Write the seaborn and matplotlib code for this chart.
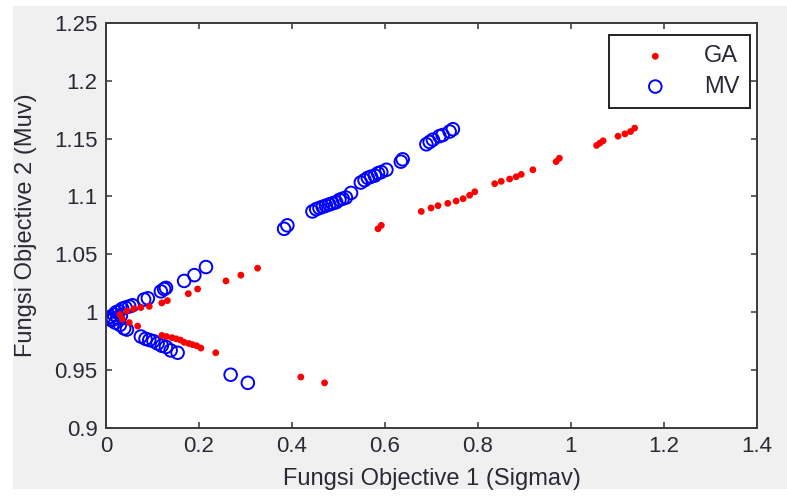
import matplotlib
matplotlib.use("Agg")
import matplotlib.pyplot as plt
from matplotlib.patches import Rectangle
import numpy as np
import pandas as pd
import seaborn as sns

# GA front: Sigmav (objective 1) and Muv (objective 2)
ga_sigmav = [0.030, 0.045, 0.060, 0.075, 0.093, 0.120, 0.132, 0.177, 0.197, 0.258,
             0.290, 0.326, 0.585, 0.592, 0.678, 0.699, 0.714, 0.735, 0.753, 0.768,
             0.782, 0.793, 0.836, 0.850, 0.868, 0.882, 0.893, 0.918, 0.968, 0.975,
             1.055, 1.062, 1.069, 1.101, 1.116, 1.128, 1.137,
             0.035, 0.050, 0.068, 0.120, 0.130, 0.142, 0.151, 0.160, 0.168, 0.178,
             0.186, 0.195, 0.204, 0.236, 0.419, 0.470]
ga_muv = [0.998, 1.001, 1.003, 1.004, 1.005, 1.008, 1.010, 1.016, 1.020, 1.027,
          1.032, 1.038, 1.072, 1.075, 1.087, 1.090, 1.092, 1.094, 1.096, 1.098,
          1.101, 1.104, 1.111, 1.113, 1.115, 1.117, 1.119, 1.123, 1.130, 1.133,
          1.144, 1.146, 1.148, 1.152, 1.154, 1.156, 1.159,
          0.994, 0.991, 0.988, 0.980, 0.979, 0.978, 0.977, 0.976, 0.974, 0.973,
          0.972, 0.971, 0.969, 0.965, 0.944, 0.939]

# MV front
mv_sigmav = [0.010, 0.017, 0.022, 0.028, 0.035, 0.042, 0.050, 0.057, 0.082, 0.090,
             0.118, 0.125, 0.129, 0.168, 0.190, 0.215, 0.383, 0.390, 0.444, 0.452,
             0.459, 0.466, 0.473, 0.480, 0.487, 0.495, 0.502, 0.509, 0.516, 0.527,
             0.548, 0.556, 0.563, 0.570, 0.578, 0.585, 0.592, 0.603, 0.634, 0.638,
             0.689, 0.696, 0.703, 0.717, 0.724, 0.739, 0.746,
             0.012, 0.020, 0.030, 0.039, 0.045, 0.075, 0.085, 0.093, 0.102, 0.111,
             0.120, 0.129, 0.139, 0.154, 0.268, 0.305,
             0.015, 0.025, 0.032]
mv_muv = [0.996, 0.998, 1.000, 1.001, 1.003, 1.004, 1.005, 1.006, 1.011, 1.012,
          1.018, 1.020, 1.021, 1.027, 1.032, 1.039, 1.072, 1.075, 1.087, 1.089,
          1.090, 1.091, 1.092, 1.093, 1.094, 1.095, 1.097, 1.098, 1.099, 1.103,
          1.112, 1.114, 1.116, 1.117, 1.118, 1.120, 1.121, 1.123, 1.130, 1.132,
          1.145, 1.147, 1.149, 1.152, 1.153, 1.156, 1.158,
          0.993, 0.991, 0.989, 0.986, 0.985, 0.979, 0.977, 0.976, 0.975, 0.973,
          0.971, 0.970, 0.967, 0.965, 0.946, 0.939,
          0.994, 0.995, 0.997]

x_ticks = [0, 0.2, 0.4, 0.6, 0.8, 1.0, 1.2, 1.4]
x_ticklabels = ["0", "0.2", "0.4", "0.6", "0.8", "1", "1.2", "1.4"]
y_ticks = [0.9, 0.95, 1.0, 1.05, 1.1, 1.15, 1.2, 1.25]
y_ticklabels = ["0.9", "0.95", "1", "1.05", "1.1", "1.15", "1.2", "1.25"]

sns.set_theme(style="white")
plt.rcParams["font.family"] = ["Liberation Sans", "DejaVu Sans"]

ga = pd.DataFrame({"sigmav": ga_sigmav, "muv": ga_muv})
mv = pd.DataFrame({"sigmav": mv_sigmav, "muv": mv_muv})

W, H = 787, 497
fig = plt.figure(figsize=(W / 100, H / 100), dpi=100, facecolor="white")
# grey window panel
fig.add_artist(Rectangle((13 / W, (H - 489) / H), 1 - 13 / W, (489 - 6) / H,
                         transform=fig.transFigure, facecolor="#f0f0f0",
                         edgecolor="none", zorder=-10))

ax = fig.add_axes([106 / W, (H - 428) / H, 651 / W, 405.3 / H])
ax.set_facecolor("white")

sns.scatterplot(data=mv, x="sigmav", y="muv", ax=ax, marker="o", s=82,
                facecolor="none", edgecolor="#0000ff", linewidth=1.4,
                label="MV", zorder=2)
sns.scatterplot(data=ga, x="sigmav", y="muv", ax=ax, marker="o", s=24,
                color="#ff0000", edgecolor="none", linewidth=0,
                label="GA", zorder=3)

ax.set_xlim(0, 1.4)
ax.set_ylim(0.9, 1.25)
ax.set_xticks(x_ticks)
ax.set_xticklabels(x_ticklabels)
ax.set_yticks(y_ticks)
ax.set_yticklabels(y_ticklabels)

tick_color = "#2a2a36"
ax.tick_params(axis="both", which="both", direction="in", length=4, width=1.2,
               color="#444444", top=True, right=True, bottom=True, left=True,
               labelsize=16, labelcolor=tick_color, pad=6)
for sp in ax.spines.values():
    sp.set_visible(True)
    sp.set_color("#3a3a3a")
    sp.set_linewidth(1.4)

ax.set_xlabel("Fungsi Objective 1 (Sigmav)", fontsize=17, color=tick_color,
              labelpad=8)
ax.set_ylabel("Fungsi Objective 2 (Muv)", fontsize=17, color=tick_color,
              labelpad=12)

handles, labels = ax.get_legend_handles_labels()
order = [labels.index("GA"), labels.index("MV")]
leg = ax.legend([handles[i] for i in order], [labels[i] for i in order],
                loc="upper right", bbox_to_anchor=(0.989, 0.970),
                borderaxespad=0, fontsize=17, frameon=True, fancybox=False,
                edgecolor="#222222", framealpha=1, handlelength=3.0,
                handletextpad=0.55, borderpad=0.45, labelspacing=0.35)
leg.get_frame().set_linewidth(1.4)
for t in leg.get_texts():
    t.set_color(tick_color)

fig.savefig("out.png", dpi=100, facecolor=fig.get_facecolor())
